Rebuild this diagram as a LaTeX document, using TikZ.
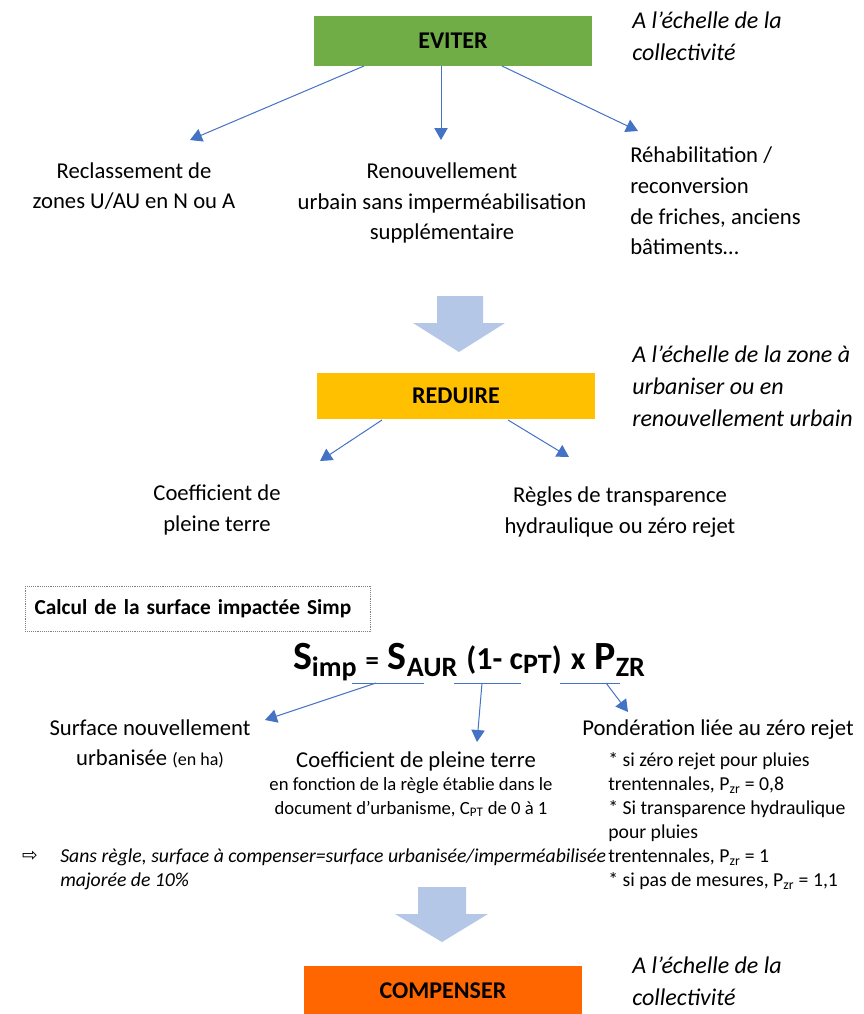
\documentclass[tikz,border=0pt]{standalone}
\usepackage{fontspec}
\setmainfont{Carlito}
\newfontfamily\symbolfont{DejaVu Sans}
\usetikzlibrary{arrows.meta}

\definecolor{evitergreen}{HTML}{70AD47}
\definecolor{reduireyellow}{HTML}{FFC000}
\definecolor{compenserorange}{HTML}{FF6600}
\definecolor{bigarrowblue}{HTML}{B4C7E7}
\definecolor{linkblue}{HTML}{4472C4}

\newcommand{\bodysize}{\fontsize{17}{23}\selectfont}
\newcommand{\notesize}{\fontsize{18}{24}\selectfont}
\newcommand{\smallsize}{\fontsize{13.5}{17}\selectfont}
\newcommand{\fsub}[2]{\raisebox{-#2}{\fontsize{21}{21}\selectfont #1}}

\tikzset{
  stagebox/.style={minimum width=209pt, inner sep=0pt, font=\fontsize{18}{20}\selectfont\bfseries},
  label/.style={font=\bodysize, align=center, inner sep=0pt},
  note/.style={font=\notesize\itshape, align=left, anchor=west, inner sep=0pt},
  link/.style={draw=linkblue, line width=0.75pt, -{Triangle[length=9pt,width=10pt]}},
  uline/.style={draw=linkblue, line width=0.75pt},
  bigarrow/.style={fill=bigarrowblue},
}

\begin{document}
\begin{tikzpicture}[x=0.75pt,y=-0.75pt]
  \useasboundingbox (0,0) rectangle (864,1014);

  % EVITER
  \node[stagebox, fill=evitergreen, minimum height=38pt] (eviter) at (453,41) {EVITER};
  \node[note] (noteeviter) at (632,36) {A l’échelle de la\\collectivité};
  \node[label] (reclass) at (134,186) {Reclassement de\\zones U/AU en N ou A};
  \node[label] (renouv) at (442,203) {Renouvellement\\urbain sans imperméabilisation\\supplémentaire};
  \node[label, align=left, anchor=west] (rehab) at (630,201) {Réhabilitation /\\reconversion\\de friches, anciens\\bâtiments…};
  \coordinate (ev1) at (364,66);
  \coordinate (ev2) at (441,66);
  \coordinate (ev3) at (502,66);
  \coordinate (reclasstop) at (190,140);
  \coordinate (renouvtop) at (441,140);
  \coordinate (rehabtop) at (638,131);
  \draw[link] (ev1) -- (reclasstop);
  \draw[link] (ev2) -- (renouvtop);
  \draw[link] (ev3) -- (rehabtop);

  \fill[bigarrow] (437,296) -- (483,296) -- (483,323) -- (505,323) -- (459,352)
    -- (413,323) -- (437,323) -- cycle;

  % REDUIRE
  \node[stagebox, fill=reduireyellow, minimum height=35pt] (reduire) at (456,396) {REDUIRE};
  \node[note] (notereduire) at (632,386) {A l'échelle de la zone à\\urbaniser ou en\\renouvellement urbain};
  \node[label] (coefpt) at (217,510) {Coefficient de\\pleine terre};
  \node[label] (regles) at (620,512) {Règles de transparence\\hydraulique ou zéro rejet};
  \coordinate (re1) at (382,420);
  \coordinate (re2) at (508,420);
  \coordinate (coefpttop) at (320,461);
  \coordinate (reglestop) at (569,457);
  \draw[link] (re1) -- (coefpttop);
  \draw[link] (re2) -- (reglestop);

  % calcul
  \node[draw=gray, densely dotted, minimum width=259pt, minimum height=34pt,
    text width=245pt, align=left, inner xsep=7pt,
    font=\fontsize{16}{18}\selectfont\bfseries] (calcul) at (198,609)
    {Calcul de la surface impactée Simp};
  \node[inner sep=0pt, font=\fontsize{30}{30}\selectfont\bfseries] (formule) at (469,662)
    {S\fsub{imp}{5pt} {\fontsize{20}{20}\selectfont =} S\fsub{AUR}{5pt}
     {\fontsize{24}{24}\selectfont (1- c\fsub{PT}{3pt})} {\fontsize{24}{24}\selectfont x}
     P\fsub{ZR}{5pt}};
  \coordinate (u1a) at (352,683); \coordinate (u1b) at (424,683);
  \coordinate (u2a) at (454,683); \coordinate (u2b) at (521,683);
  \coordinate (u3a) at (560,683); \coordinate (u3b) at (620,683);
  \draw[uline] (u1a) -- (u1b);
  \draw[uline] (u2a) -- (u2b);
  \draw[uline] (u3a) -- (u3b);

  \node[label] (surface) at (150,744) {Surface nouvellement\\urbanisée {\smallsize (en ha)}};
  \node[label] (coefficient) at (416,761) {Coefficient de pleine terre};
  \node[label, font=\fontsize{14}{18}\selectfont] (coefdetail) at (411,797)
    {en fonction de la règle établie dans le\\document d’urbanisme, C\textsubscript{PT} de 0 à 1};
  \node[label, anchor=west] (ponder) at (582,730) {Pondération liée au zéro rejet};
  \node[label, font=\fontsize{14.8}{18}\selectfont, align=left, anchor=west] (ponderlist) at (608,821)
    {* si zéro rejet pour pluies\\trentennales, P\textsubscript{zr} = 0,8\\* Si transparence hydraulique\\pour pluies\\trentennales, P\textsubscript{zr} = 1\\* si pas de mesures, P\textsubscript{zr} = 1,1};
  \coordinate (f1) at (376,683);
  \coordinate (f2) at (482,683);
  \coordinate (f3) at (606,683);
  \coordinate (surfacetop) at (265,720);
  \coordinate (coefficienttop) at (477,742);
  \coordinate (pondertop) at (628,712);
  \draw[link] (f1) -- (surfacetop);
  \draw[link] (f2) -- (coefficienttop);
  \draw[link] (f3) -- (pondertop);

  \node[inner sep=0pt, font=\symbolfont\fontsize{14}{14}\selectfont] (flag) at (30,856) {⇨};
  \node[label, font=\fontsize{14.8}{18}\selectfont\itshape, align=left, anchor=west] (sansregle) at (60,869)
    {Sans règle, surface à compenser=surface urbanisée/imperméabilisée\\majorée de 10\%};

  \fill[bigarrow] (418,887) -- (466,887) -- (466,914) -- (488,914) -- (442,942)
    -- (395,914) -- (418,914) -- cycle;

  % COMPENSER
  \node[stagebox, fill=compenserorange, minimum height=38pt] (compenser) at (443,991) {COMPENSER};
  \node[note] (notecompenser) at (632,981) {A l’échelle de la\\collectivité};
\end{tikzpicture}
\end{document}
